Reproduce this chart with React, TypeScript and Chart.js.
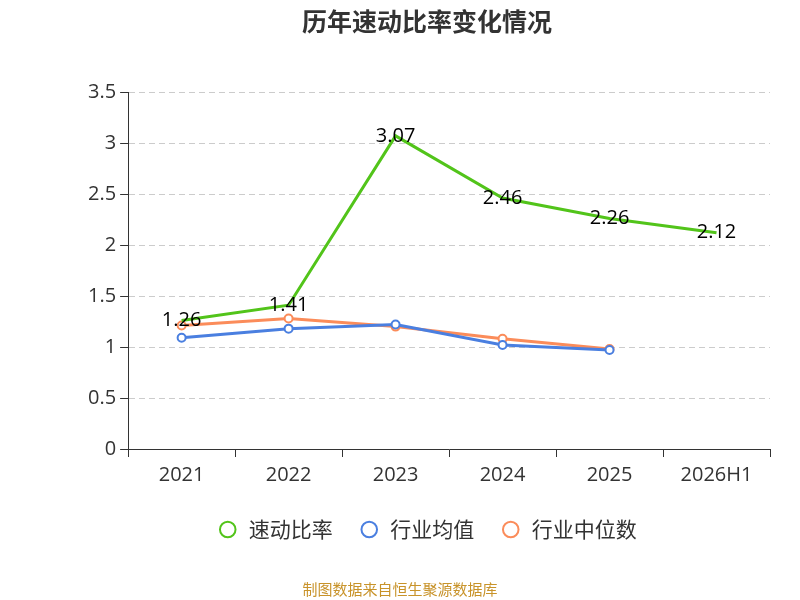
import React, { useEffect, useRef } from "react";
import { Chart, registerables } from "chart.js";
Chart.register(...registerables);

const categories = ["2021", "2022", "2023", "2024", "2025", "2026H1"];
const quickRatio = [1.26, 1.41, 3.07, 2.46, 2.26, 2.12];
const industryMean = [1.09, 1.18, 1.22, 1.02, 0.97, null];
const industryMedian = [1.21, 1.28, 1.2, 1.08, 0.98, null];
const yTicks = [0, 0.5, 1, 1.5, 2, 2.5, 3, 3.5];

const FONT = "'Open Sans', 'Noto Sans CJK SC', sans-serif";

const extras = {
  id: "extras",
  afterDatasetsDraw(chart: any) {
    const ctx = chart.ctx;
    const meta = chart.getDatasetMeta(0);
    ctx.save();
    ctx.font = `20px ${FONT}`;
    ctx.fillStyle = "#000";
    ctx.textAlign = "center";
    ctx.textBaseline = "middle";
    meta.data.forEach((p: any, i: number) => {
      ctx.fillText(quickRatio[i].toFixed(2), p.x, p.y);
    });
    ctx.font = `15px 'Noto Sans CJK SC', sans-serif`;
    ctx.fillStyle = "#c8932a";
    ctx.fillText("制图数据来自恒生聚源数据库", 400, 589);
    ctx.restore();
  },
};

export default function App() {
  const ref = useRef<HTMLCanvasElement>(null);
  useEffect(() => {
    const chart = new Chart(ref.current!, {
      type: "line",
      data: {
        labels: categories,
        datasets: [
          { label: "速动比率", data: quickRatio, borderColor: "#52c41a", backgroundColor: "#fff", borderWidth: 3, pointRadius: 0, pointBorderWidth: 2 },
          { label: "行业均值", data: industryMean, borderColor: "#4a7fe0", backgroundColor: "#fff", borderWidth: 3, pointRadius: 4, pointBorderWidth: 2 },
          { label: "行业中位数", data: industryMedian, borderColor: "#fb8c5a", backgroundColor: "#fff", borderWidth: 3, pointRadius: 4, pointBorderWidth: 2 },
        ],
      },
      options: {
        animation: false,
        responsive: false,
        layout: { padding: { left: 84, right: 30, top: 0, bottom: 50 } },
        plugins: {
          title: { display: true, text: "历年速动比率变化情况", font: { size: 25, weight: "bold", family: "'Noto Sans CJK SC', sans-serif" }, color: "#333", padding: { top: 6, bottom: 56 } },
          legend: {
            position: "bottom",
            labels: { font: { size: 21, family: "'Noto Sans CJK SC', sans-serif" }, color: "#333", usePointStyle: true, pointStyle: "circle", boxWidth: 44, boxHeight: 11, padding: 26 },
          },
          tooltip: { enabled: false },
        },
        scales: {
          x: {
            offset: true,
            grid: { offset: true, drawOnChartArea: false, tickLength: 8, color: "#333" },
            border: { color: "#333" },
            ticks: { font: { size: 20, family: FONT }, color: "#333", padding: 6 },
          },
          y: {
            min: 0, max: 3.5,
            afterBuildTicks: (s: any) => { s.ticks = yTicks.map((v) => ({ value: v })); },
            grid: { color: "#ccc", tickColor: "#333", tickLength: 8, tickBorderDash: [], borderDash: [6, 4] } as any,
            border: { color: "#333", dash: [6, 4] } as any,
            ticks: { font: { size: 20, family: FONT }, color: "#333", padding: 4, callback: (v: any) => String(v) },
          },
        },
      },
      plugins: [extras],
    } as any);
    return () => chart.destroy();
  }, []);
  return (
    <div style={{ position: "fixed", left: 0, top: 0, width: 800, height: 600, background: "#fff" }}>
      <canvas ref={ref} width={800} height={600} />
    </div>
  );
}
